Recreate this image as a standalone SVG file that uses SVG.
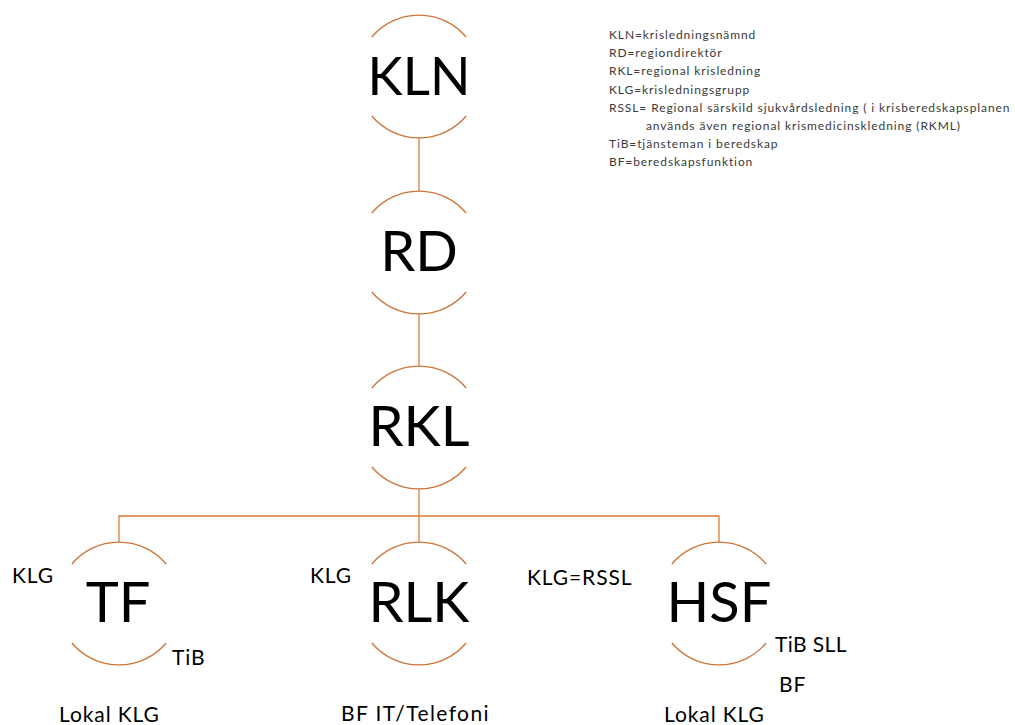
<svg xmlns="http://www.w3.org/2000/svg" width="1015" height="725" viewBox="0 0 1015 725">
<style>
.arc{fill:none;stroke:#CD7436;stroke-width:1.3}
.con{fill:none;stroke:#E07A30;stroke-width:1.3}
.big{font-family:Lato,"Open Sans","Liberation Sans",sans-serif;font-size:56px;fill:#000;text-anchor:middle}
.lbl{font-family:Lato,"Open Sans","Liberation Sans",sans-serif;font-size:21px;fill:#000;letter-spacing:0.9px}
.leg{font-family:Lato,"Open Sans","Liberation Sans",sans-serif;font-size:12px;fill:#3a3a3a;letter-spacing:0.9px}
</style>
<defs>
<g id="ring">
<path class="arc" d="M -47.1 -39.5 A 61.5 61.5 0 0 1 47.1 -39.5"/>
<path class="arc" d="M -47.1 39.5 A 61.5 61.5 0 0 0 47.1 39.5"/>
</g>
</defs>
<rect width="1015" height="725" fill="#fff"/>
<g id="connectors">
<line class="con" x1="419" y1="138" x2="419" y2="191"/>
<line class="con" x1="419" y1="314" x2="419" y2="366"/>
<line class="con" x1="419" y1="489" x2="419" y2="542"/>
<polyline class="con" points="119,542 119,516 719,516 719,542"/>
</g>
<g id="KLN">
<use href="#ring" x="419" y="76.5"/>
<text class="big" x="419" y="95" style="font-size:53px">KLN</text>
</g>
<g id="RD">
<use href="#ring" x="419" y="252.5"/>
<text class="big" x="419" y="271">RD</text>
</g>
<g id="RKL">
<use href="#ring" x="419" y="427.5"/>
<text class="big" x="419" y="446">RKL</text>
</g>
<g id="TF">
<use href="#ring" x="119" y="603.5"/>
<text class="big" x="118" y="622">TF</text>
<text class="lbl" x="12" y="583">KLG</text>
<text class="lbl" x="172" y="665">TiB</text>
<text class="lbl" x="59" y="722">Lokal KLG</text>
</g>
<g id="RLK">
<use href="#ring" x="419" y="603.5"/>
<text class="big" x="419" y="622">RLK</text>
<text class="lbl" x="310" y="583">KLG</text>
<text class="lbl" x="341" y="721" style="letter-spacing:1.4px">BF IT/Telefoni</text>
</g>
<g id="KLG_RSSL">
<text class="lbl" x="527" y="585">KLG=RSSL</text>
</g>
<g id="HSF">
<use href="#ring" x="719" y="603.5"/>
<text class="big" x="719" y="622">HSF</text>
<text class="lbl" x="775" y="652" style="letter-spacing:0.4px">TiB SLL</text>
<text class="lbl" x="779" y="692">BF</text>
<text class="lbl" x="664" y="722">Lokal KLG</text>
</g>
<g id="legend">
<text class="leg" x="609" y="39">KLN=krisledningsnämnd</text>
<text class="leg" x="609" y="57.2">RD=regiondirektör</text>
<text class="leg" x="609" y="75.4">RKL=regional krisledning</text>
<text class="leg" x="609" y="93.6">KLG=krisledningsgrupp</text>
<text class="leg" x="609" y="111.8">RSSL=  Regional särskild sjukvårdsledning ( i krisberedskapsplanen</text>
<text class="leg" x="646" y="130">används även regional krismedicinskledning (RKML)</text>
<text class="leg" x="609" y="148.2">TiB=tjänsteman i beredskap</text>
<text class="leg" x="609" y="166.4">BF=beredskapsfunktion</text>
</g>
</svg>
